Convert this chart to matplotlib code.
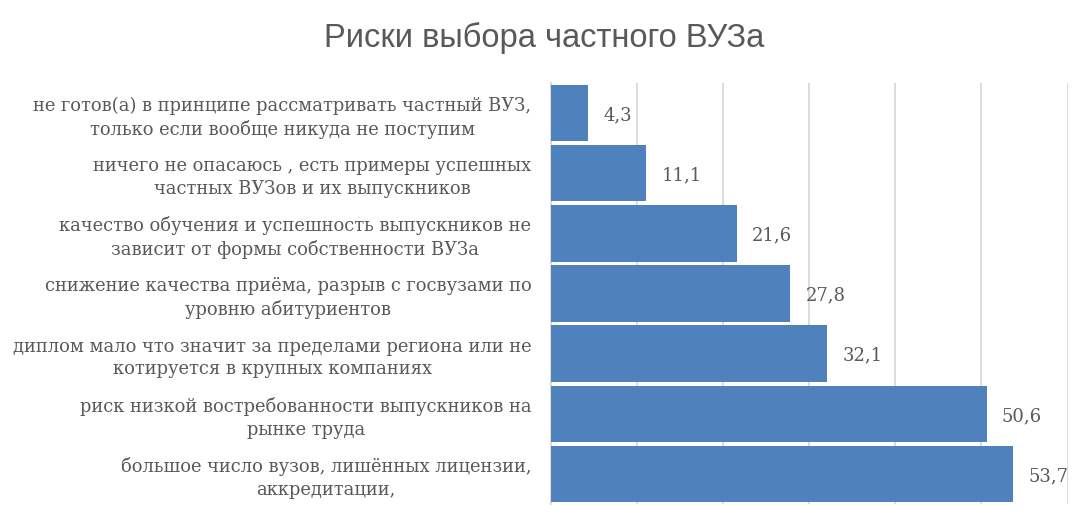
import matplotlib
matplotlib.use("Agg")
import matplotlib.pyplot as plt

title = "Риски выбора частного ВУЗа"
categories = [
    "не готов(а) в принципе рассматривать частный ВУЗ,\nтолько если вообще никуда не поступим",
    "ничего не опасаюсь , есть примеры успешных\nчастных ВУЗов и их выпускников",
    "качество обучения и успешность выпускников не\nзависит от формы собственности ВУЗа",
    "снижение качества приёма, разрыв с госвузами по\nуровню абитуриентов",
    "диплом мало что значит за пределами региона или не\nкотируется в крупных компаниях",
    "риск низкой востребованности выпускников на\nрынке труда",
    "большое число вузов, лишённых лицензии,\nаккредитации,",
]
values = [4.3, 11.1, 21.6, 27.8, 32.1, 50.6, 53.7]
value_labels = ["4,3", "11,1", "21,6", "27,8", "32,1", "50,6", "53,7"]
x_ticks = [0, 10, 20, 30, 40, 50, 60]

fig = plt.figure(figsize=(10.88, 5.30), dpi=100)
ax = fig.add_axes([550.9 / 1088, 26 / 530, (1067.6 - 550.9) / 1088, (504 - 83) / 530])

ypos = list(range(len(categories)))
ax.barh(ypos, values, height=0.94, color="#4f81bd", zorder=3)
ax.set_ylim(len(categories) - 0.5, -0.5)
ax.set_xlim(0, 60)
ax.set_xticks(x_ticks)
ax.set_xticklabels([])
ax.tick_params(axis="x", length=0)
ax.grid(axis="x", color="#d9d9d9", linewidth=1.3, zorder=0)
ax.set_yticks(ypos)
ax.set_yticklabels(categories, fontsize=12.9, family="DejaVu Serif", color="#595959",
                   multialignment="center", linespacing=1.33)
ax.tick_params(axis="y", length=0, pad=14)
for s in ["top", "right", "bottom"]:
    ax.spines[s].set_visible(False)
ax.spines["left"].set_color("#d9d9d9")
ax.spines["left"].set_linewidth(1.3)

for y, v, lab in zip(ypos, values, value_labels):
    ax.annotate(lab, (v, y), xytext=(11, -1.5), textcoords="offset points",
                va="center", ha="left", fontsize=13, family="DejaVu Serif", color="#595959")

fig.text(0.5, 1 - 38 / 530, title, ha="center", va="center", fontsize=23.5,
         family="Liberation Sans", color="#595959")

fig.savefig("out.png", dpi=100)
